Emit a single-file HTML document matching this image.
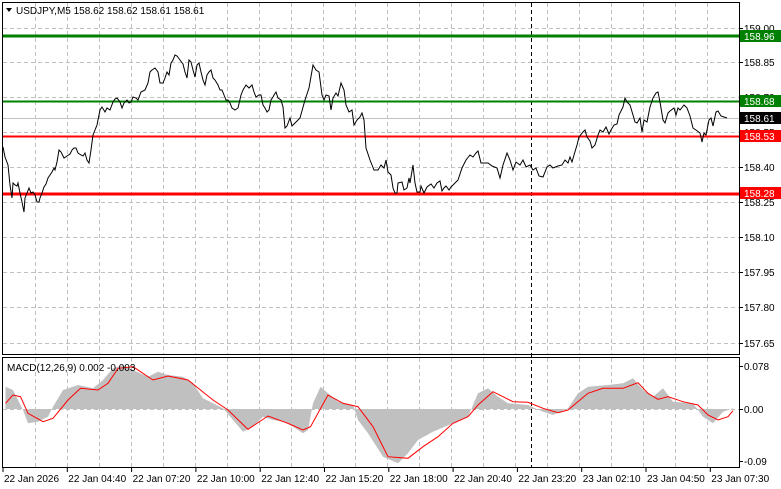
<!DOCTYPE html>
<html><head><meta charset="utf-8"><style>
body{margin:0;background:#fff;}
svg{display:block;font-family:"Liberation Sans",sans-serif;font-size:10px;}
</style></head><body>
<svg id="s" width="781" height="489" viewBox="0 0 781 489" xmlns="http://www.w3.org/2000/svg">
<rect width="781" height="489" fill="#fff"/>
<g id="grid" stroke="#c0c0c0" stroke-dasharray="4,3" stroke-width="1"></g>
<line x1="531.5" y1="3" x2="531.5" y2="468" stroke="#000" stroke-dasharray="4,3"/>
<line x1="3" y1="118.5" x2="739" y2="118.5" stroke="#c0c0c0"/>
<line x1="3" y1="36" x2="739" y2="36" stroke="#008000" stroke-width="3"/>
<line x1="3" y1="101.5" x2="739" y2="101.5" stroke="#008000" stroke-width="2"/>
<line x1="3" y1="136.5" x2="739" y2="136.5" stroke="#ff0000" stroke-width="2"/>
<line x1="3" y1="194" x2="739" y2="194" stroke="#ff0000" stroke-width="3"/>
<polygon id="hist" fill="#c0c0c0"/>
<polyline id="price" fill="none" stroke="#000" stroke-width="1"/>
<polyline id="sig" fill="none" stroke="#ff0000" stroke-width="1"/>
<rect x="2.5" y="2.5" width="737" height="352" fill="none" stroke="#000"/>
<rect x="2.5" y="357.5" width="737" height="110" fill="none" stroke="#000"/>
<g fill="#000" id="ax"></g>
<rect x="740" y="30" width="41" height="12" fill="#008000"/><text x="744" y="40" fill="#fff">158.96</text>
<rect x="740" y="95" width="41" height="12" fill="#008000"/><text x="744" y="105" fill="#fff">158.68</text>
<rect x="740" y="112" width="41" height="12" fill="#000"/><text x="744" y="122" fill="#fff">158.61</text>
<rect x="740" y="130" width="41" height="12" fill="#ff0000"/><text x="744" y="140" fill="#fff">158.53</text>
<rect x="740" y="187" width="41" height="12" fill="#ff0000"/><text x="744" y="197" fill="#fff">158.28</text>
<polygon points="6,8 12,8 9,12" fill="#000"/>
<text x="16" y="14" fill="#000">USDJPY,M5  158.62 158.62 158.61 158.61</text>
<text x="7" y="371" fill="#000">MACD(12,26,9) 0.002 -0.003</text>
</svg>
<script>
var ns="http://www.w3.org/2000/svg";
function el(t,a,p,txt){var e=document.createElementNS(ns,t);for(var k in a)e.setAttribute(k,a[k]);if(txt)e.textContent=txt;p.appendChild(e);return e;}
var g=document.getElementById('grid'),ax=document.getElementById('ax');
for(var x=35;x<739;x+=32){el('line',{x1:x+.5,y1:3,x2:x+.5,y2:354},g);el('line',{x1:x+.5,y1:358,x2:x+.5,y2:467},g);}
var lv=[["159.00",28],["158.85",62],["158.70",97],["158.55",132],["158.40",167],["158.25",202],["158.10",237],["157.95",272],["157.80",307],["157.65",343]];
lv.forEach(function(l){el('line',{x1:3,y1:l[1]+.5,x2:739,y2:l[1]+.5},g);el('line',{x1:739,y1:l[1]+.5,x2:743,y2:l[1]+.5,stroke:'#000'},ax);el('text',{x:744,y:l[1]+4},ax,l[0]);});
el('line',{x1:3,y1:409.5,x2:739,y2:409.5},g);
[["0.078",366],["0.00",409],["-0.09",461]].forEach(function(l){el('line',{x1:739,y1:l[1]+.5,x2:743,y2:l[1]+.5,stroke:'#000'},ax);el('text',{x:744,y:l[1]+4},ax,l[0]);});
var tl=["22 Jan 2026","22 Jan 04:40","22 Jan 07:20","22 Jan 10:00","22 Jan 12:40","22 Jan 15:20","22 Jan 18:00","22 Jan 20:40","22 Jan 23:20","23 Jan 02:10","23 Jan 04:50","23 Jan 07:30"];
tl.forEach(function(t,i){var x=3+i*64.3;el('line',{x1:x,y1:468,x2:x,y2:472,stroke:'#000'},ax);el('text',{x:x+1,y:482},ax,t);});
var P=[3,147,5,157,8,165,10,185,12,198,13,183,15,185,17,186,18,183,20,193,22,202,24,212,25,198,27,193,29,188,31,193,33,192,35,195,37,202,39,202,40,198,42,193,44,187,46,184,48,178,50,175,52,172,54,168,55,170,57,162,59,150,61,152,64,158,67,156,70,154,72,150,74,148,76,148,78,153,81,155,83,156,85,153,87,160,89,163,91,150,93,135,95,130,97,125,100,110,102,107,105,112,107,108,110,110,113,102,115,99,117,98,120,102,122,108,124,103,127,100,129,103,131,102,133,97,136,98,138,100,141,92,145,90,148,83,150,72,152,70,155,68,158,72,160,83,163,83,165,78,167,72,169,75,171,63,173,60,175,55,177,56,180,60,183,64,185,72,187,78,189,60,191,62,193,70,195,77,197,65,199,63,201,72,203,80,205,85,207,75,209,72,211,70,213,78,215,80,218,85,220,90,222,90,224,95,226,100,228,100,230,103,232,108,235,110,238,108,241,95,243,90,246,85,249,88,252,85,254,92,256,97,259,95,261,95,263,105,265,108,267,112,269,110,271,100,273,97,274,95,276,92,278,98,281,100,283,107,285,128,287,126,290,118,292,126,295,123,300,118,305,100,309,88,313,65,316,70,319,72,322,95,324,100,326,95,329,96,331,110,333,98,336,93,338,96,341,83,344,90,346,105,349,112,352,110,354,125,357,120,360,117,362,113,364,120,366,148,370,160,374,170,378,170,381,165,384,168,386,160,388,172,391,175,393,188,395,193,397,193,398,183,402,182,404,190,407,188,409,178,410,183,413,165,415,183,417,192,420,192,421,186,424,193,427,187,431,184,434,188,437,183,440,181,442,191,444,188,446,186,449,190,451,187,453,185,458,180,462,168,466,160,470,155,473,157,476,153,478,151,481,163,488,163,492,166,497,168,500,178,503,165,507,153,510,160,513,170,516,162,520,165,523,160,526,167,530,165,533,170,536,168,539,176,543,177,547,167,550,165,553,168,558,166,562,165,565,160,568,163,570,157,572,162,574,155,577,145,579,137,583,132,585,130,587,137,590,141,592,148,595,145,598,135,600,130,603,132,606,127,609,134,611,130,614,125,617,124,619,115,623,107,625,98,627,102,630,105,633,115,635,122,637,123,640,118,642,132,644,120,647,122,650,107,653,98,656,93,658,92,660,102,663,120,665,123,668,113,670,111,674,108,676,115,678,108,680,110,684,105,687,108,690,116,693,128,696,130,700,133,702,142,704,133,706,135,709,120,711,118,713,126,716,112,718,111,721,116,724,117,727,118];
var s="";for(var i=0;i<P.length;i+=2)s+=P[i]+","+P[i+1]+" ";document.getElementById('price').setAttribute('points',s);
function cv(a){var r="";for(var i=0;i<a.length;i+=2)r+=(a[i]/2+3).toFixed(1)+","+(340+a[i+1]/3).toFixed(1)+" ";return r;}
var H=[5,140,20,150,40,210,50,250,70,245,90,230,100,200,120,150,150,135,180,145,200,120,220,85,240,75,260,90,290,110,310,95,330,105,360,110,380,130,400,175,440,205,460,240,480,275,500,260,520,230,540,240,560,245,580,260,600,280,610,270,620,190,635,140,650,160,670,185,700,195,710,240,730,280,760,350,790,370,810,340,830,300,860,275,900,250,930,230,950,160,970,145,990,170,1010,190,1050,195,1080,215,1100,225,1130,205,1150,160,1170,140,1210,135,1240,130,1260,115,1280,150,1300,170,1320,145,1340,185,1380,190,1400,230,1420,250,1440,215,1460,205];
document.getElementById('hist').setAttribute('points',"5.5,409 "+cv(H)+"733,409");
var S=[5,190,20,165,35,170,50,220,80,245,100,235,130,180,155,145,190,150,210,130,230,85,260,80,300,120,330,108,370,120,420,180,450,210,490,268,530,228,570,250,600,270,615,260,650,165,680,190,710,200,740,260,770,350,810,355,840,320,870,290,900,250,930,230,950,195,980,155,1020,185,1050,187,1080,205,1110,218,1130,210,1170,160,1200,145,1240,145,1270,128,1290,160,1310,178,1330,170,1360,185,1390,195,1410,225,1430,240,1450,230,1460,212];
document.getElementById('sig').setAttribute('points',cv(S));
</script>
</body></html>
